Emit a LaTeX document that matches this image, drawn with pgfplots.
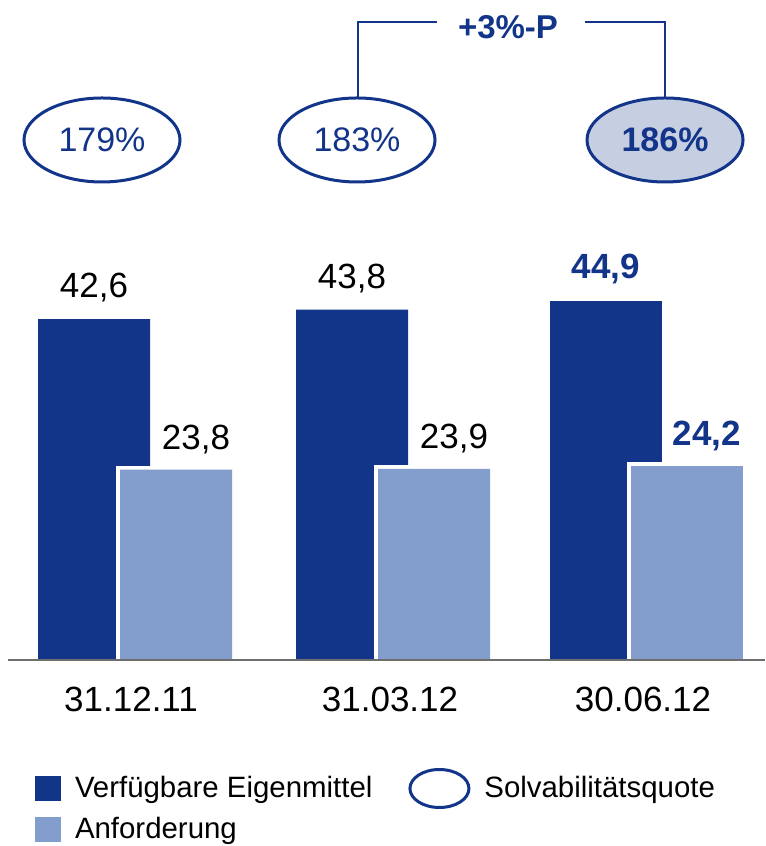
\documentclass[border=0pt]{standalone}
\usepackage{fontspec}
\setmainfont{Liberation Sans}
\usepackage{pgfplots}
\pgfplotsset{compat=1.18}
\usetikzlibrary{shapes.geometric}
\definecolor{cdark}{RGB}{18,52,137}
\definecolor{clight}{RGB}{131,158,204}
\definecolor{cfill}{RGB}{198,207,226}
\definecolor{cbase}{RGB}{110,110,110}
\begin{document}
\begin{tikzpicture}
\begin{axis}[
  scale only axis, width=382.5pt, height=423pt,
  xmin=0, xmax=765, ymin=-23.25, ymax=82.5,
  axis x line=middle, axis y line=none,
  x axis line style={draw=none},
  xtick={131,390,643}, xticklabels={31.12.11,31.03.12,30.06.12},
  major tick length=0pt,
  xticklabel style={font=\fontsize{17.5}{20}\selectfont, inner sep=0pt, anchor=north, yshift=-13.5pt},
  clip=false,
  legend style={at={(axis cs:35,-13.5)}, anchor=north west, draw=none, fill=none,
    inner sep=0pt, outer sep=0pt, legend columns=2, row sep=4pt,
    font=\fontsize{14.7}{17}\selectfont,
    nodes={inner sep=0pt, anchor=west},
    /tikz/every odd column/.style={column sep=7pt},
    /tikz/every even column/.style={column sep=18pt}},
  legend cell align=left,
]
% Verfuegbare Eigenmittel
\addplot[ybar, bar width=112, bar shift=0pt, fill=cdark, draw=none,
  nodes near coords, point meta=explicit symbolic,
  every node near coord/.append style={font=\fontsize{17.5}{20}\selectfont, inner sep=0pt, text=black, yshift=8.25pt},
  legend image code/.code={\fill[cdark] (0pt,-6.25pt) rectangle (13pt,6.25pt);}]
  coordinates {(94,42.6) [{42,6}] (352,43.8) [{43,8}]};
\addlegendentry{Verfügbare Eigenmittel}
% Solvabilitaetsquote
\addplot[draw=none, nodes near coords, point meta=explicit symbolic,
  every node near coord/.append style={ellipse, draw=cdark, line width=1.5pt, minimum width=78pt,
    minimum height=42pt, inner sep=0pt, outer sep=0pt, text=cdark, yshift=-21pt,
    font=\fontsize{17}{20}\selectfont},
  legend image code/.code={\draw[cdark, line width=1.5pt] (15.25pt,0pt) ellipse (14.75pt and 9.5pt);}]
  coordinates {(102,65) [{179\%}] (357,65) [{183\%}]};
\addlegendentry{Solvabilitätsquote}
\addplot[ybar, bar width=112, bar shift=0pt, fill=cdark, draw=none, forget plot,
  nodes near coords, point meta=explicit symbolic,
  every node near coord/.append style={font=\fontsize{17.5}{20}\selectfont\bfseries, inner sep=0pt, text=cdark, yshift=8.25pt}]
  coordinates {(606,44.9) [{44,9}]};
\addplot[draw=none, forget plot, nodes near coords, point meta=explicit symbolic,
  every node near coord/.append style={ellipse, draw=cdark, fill=cfill, line width=1.5pt, minimum width=78pt,
    minimum height=42pt, inner sep=0pt, outer sep=0pt, text=cdark, yshift=-21pt,
    font=\fontsize{17}{20}\selectfont\bfseries}]
  coordinates {(665,65) [{186\%}]};
% Anforderung: white outline first, then the fill over it
\addplot[ybar, bar width=112, bar shift=0pt, fill=white, draw=white, line width=4pt, forget plot]
  coordinates {(176,23.8) (434,23.9) (687,24.2)};
\addplot[ybar, bar width=112, bar shift=0pt, fill=clight, draw=none,
  nodes near coords, point meta=explicit symbolic,
  every node near coord/.append style={font=\fontsize{17.5}{20}\selectfont, inner sep=0pt, text=black, xshift=10pt, yshift=7.75pt},
  legend image code/.code={\fill[clight] (0pt,-6.25pt) rectangle (13pt,6.25pt);}]
  coordinates {(176,23.8) [{23,8}] (434,23.9) [{23,9}]};
\addlegendentry{Anforderung}
\addplot[ybar, bar width=112, bar shift=0pt, fill=clight, draw=none, forget plot,
  nodes near coords, point meta=explicit symbolic,
  every node near coord/.append style={font=\fontsize{17.5}{20}\selectfont\bfseries, inner sep=0pt, text=cdark, xshift=10pt, yshift=7.75pt}]
  coordinates {(687,24.2) [{24,2}]};
% baseline and bracket
\draw[cbase, line width=1pt] (axis cs:8,0) -- (axis cs:765,0);
\draw[cdark, line width=0.75pt] (axis cs:358,70.25) |- (axis cs:437,79.75);
\draw[cdark, line width=0.75pt] (axis cs:585,79.75) -| (axis cs:665,70.25);
\node[text=cdark, font=\fontsize{16.5}{20}\selectfont\bfseries, inner sep=0pt] at (axis cs:508,79.1) {+3\%-P};
\coordinate (bl) at (rel axis cs:0,0);
\coordinate (tr) at (rel axis cs:1,1);
\end{axis}
\pgfresetboundingbox
\path (bl) rectangle (tr);
\end{tikzpicture}
\end{document}
